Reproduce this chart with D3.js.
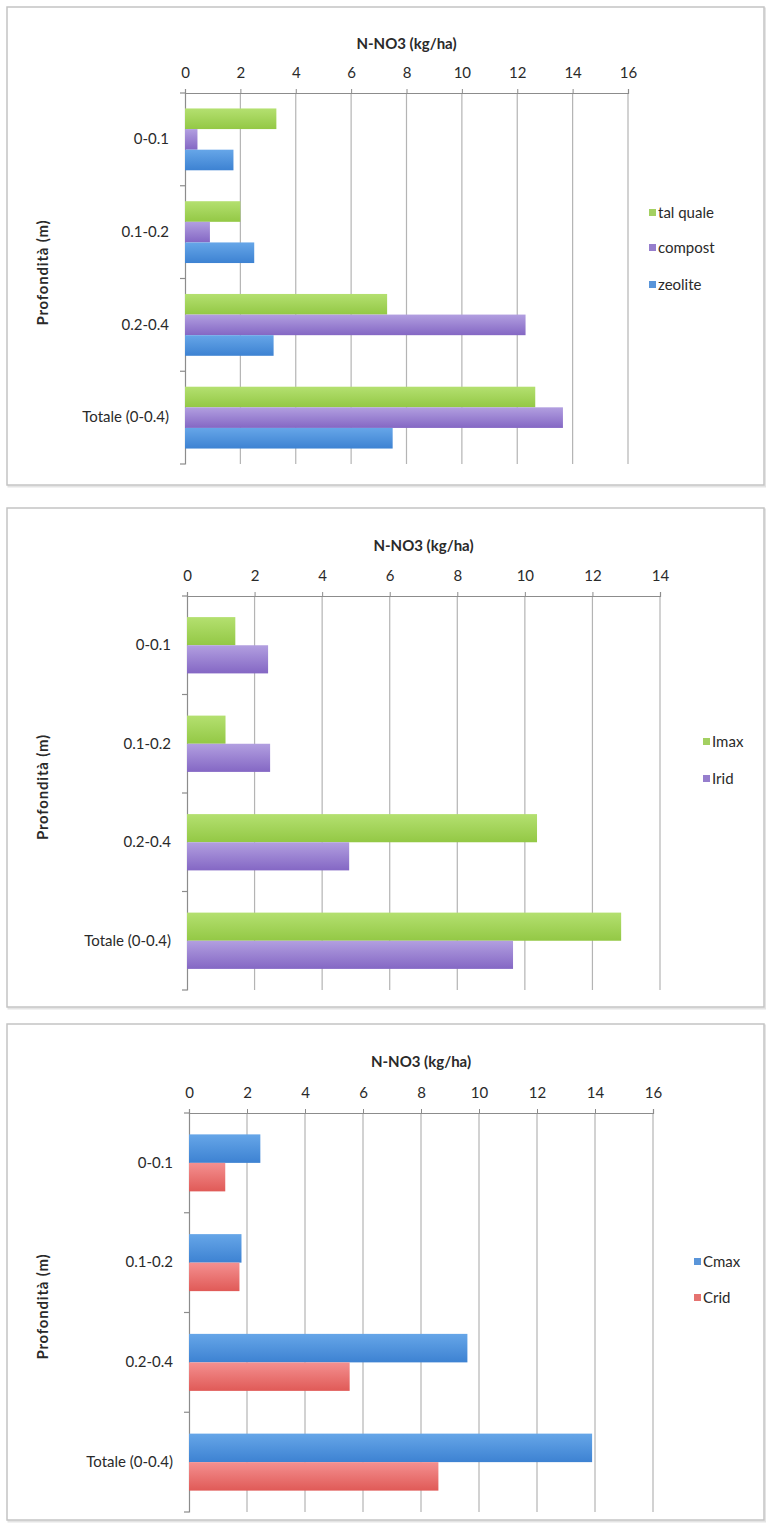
<!DOCTYPE html>
<html>
<head>
<meta charset="utf-8">
<script src="https://cdn.jsdelivr.net/npm/d3@7"></script>
<style>
  html, body { margin: 0; padding: 0; background: #ffffff; }
  svg { display: block; }
  text { font-family: Lato, "Open Sans", sans-serif; fill: #2a2a2a; }
</style>
</head>
<body>
<svg id="chart" width="766" height="1526"></svg>
<script>
// ---------- data ----------
const categories = ["0-0.1", "0.1-0.2", "0.2-0.4", "Totale (0-0.4)"];

const seriesTop = ["tal quale", "compost", "zeolite"];
const talQuale = [3.3, 2.0, 7.3, 12.65];
const compost  = [0.45, 0.9, 12.3, 13.65];
const zeolite  = [1.75, 2.5, 3.2, 7.5];
const ticksTop = [0, 2, 4, 6, 8, 10, 12, 14, 16];

const seriesMid = ["Imax", "Irid"];
const imax = [1.43, 1.14, 10.36, 12.85];
const irid = [2.4, 2.46, 4.8, 9.65];
const ticksMid = [0, 2, 4, 6, 8, 10, 12, 14];

const seriesBot = ["Cmax", "Crid"];
const cmax = [2.46, 1.81, 9.6, 13.9];
const crid = [1.25, 1.74, 5.54, 8.6];
const ticksBot = [0, 2, 4, 6, 8, 10, 12, 14, 16];

const xTitle = "N-NO3 (kg/ha)";
const yTitle = "Profondità (m)";

// ---------- drawing ----------
const svg = d3.select("#chart");
const defs = svg.append("defs");

const palette = {
  green:  ["#b4e070", "#93c845"],
  purple: ["#b29fe0", "#8467c4"],
  blue:   ["#66a6e8", "#3d82d2"],
  red:    ["#f49090", "#e05a57"]
};
Object.entries(palette).forEach(([k, c]) => {
  const g = defs.append("linearGradient").attr("id", "g-" + k)
    .attr("x1", 0).attr("y1", 0).attr("x2", 0).attr("y2", 1);
  g.append("stop").attr("offset", "0%").attr("stop-color", c[0]);
  g.append("stop").attr("offset", "100%").attr("stop-color", c[1]);
});

const FS = "15px";

function drawChart(cfg) {
  const g = svg.append("g");
  // frame
  g.append("rect")
    .attr("x", cfg.frame[0] + 1.5).attr("y", cfg.frame[1] + 1.5)
    .attr("width", cfg.frame[2] - cfg.frame[0]).attr("height", cfg.frame[3] - cfg.frame[1])
    .attr("fill", "none").attr("stroke", "#e4e4e4").attr("stroke-width", 2);
  g.append("rect")
    .attr("x", cfg.frame[0]).attr("y", cfg.frame[1])
    .attr("width", cfg.frame[2] - cfg.frame[0]).attr("height", cfg.frame[3] - cfg.frame[1])
    .attr("fill", "#fff").attr("stroke", "#c4c4c4").attr("stroke-width", 1.5);

  const x = d3.scaleLinear().domain([cfg.ticks[0], cfg.ticks[cfg.ticks.length - 1]])
    .range([cfg.x0, cfg.x1]);
  const y = d3.scaleBand().domain(categories).range([cfg.y0, cfg.y1]).padding(0);
  const ys = d3.scaleBand().domain(cfg.series.map((s, i) => i))
    .range([0, y.bandwidth()]).paddingInner(0).paddingOuter(0.75);

  // gridlines
  g.append("g").selectAll("line").data(cfg.ticks.slice(1)).join("line")
    .attr("x1", d => x(d)).attr("x2", d => x(d))
    .attr("y1", cfg.y0).attr("y2", cfg.y1)
    .attr("stroke", "#b4b4b4").attr("stroke-width", 1.2);

  // x axis (top)
  const xa = g.append("g").attr("transform", `translate(0,${cfg.y0})`)
    .call(d3.axisTop(x).tickValues(cfg.ticks).tickSize(4).tickPadding(11));
  xa.select(".domain").attr("stroke", "#8c8c8c").attr("stroke-width", 1.2);
  xa.selectAll(".tick line").attr("stroke", "#8c8c8c");
  xa.selectAll("text").style("font-size", FS).style("font-family", "Lato, sans-serif").attr("fill", "#2a2a2a");

  // y axis (left)
  const ya = g.append("g").attr("transform", `translate(${cfg.x0},0)`)
    .call(d3.axisLeft(y).tickSize(0).tickPadding(16));
  ya.select(".domain").attr("stroke", "#8c8c8c").attr("stroke-width", 1.2);
  ya.selectAll("text").style("font-size", FS).style("font-family", "Lato, sans-serif").attr("fill", "#2a2a2a");
  // category boundary tick marks
  g.append("g").selectAll("line").data(categories.map(c => y(c)).concat([cfg.y1])).join("line")
    .attr("x1", cfg.x0 - 5).attr("x2", cfg.x0)
    .attr("y1", d => d).attr("y2", d => d)
    .attr("stroke", "#8c8c8c").attr("stroke-width", 1.2);

  // bars
  cfg.values.forEach((vals, si) => {
    g.append("g").selectAll("rect").data(vals).join("rect")
      .attr("x", x(0))
      .attr("y", (d, i) => y(categories[i]) + ys(si))
      .attr("width", d => x(d) - x(0))
      .attr("height", ys.bandwidth())
      .attr("fill", `url(#g-${cfg.colors[si]})`);
  });

  // titles
  g.append("text").attr("x", (cfg.x0 + cfg.x1) / 2).attr("y", cfg.titleY)
    .attr("text-anchor", "middle").style("font-size", FS).style("font-weight", "bold")
    .text(xTitle);
  g.append("text")
    .attr("transform", `translate(${cfg.yTitleX},${(cfg.y0 + cfg.y1) / 2 - 6}) rotate(-90)`)
    .attr("text-anchor", "middle").style("font-size", FS).style("font-weight", "bold")
    .style("letter-spacing", "0.8px")
    .text(yTitle);

  // legend
  const lg = g.append("g");
  cfg.series.forEach((s, i) => {
    const ly = cfg.legendY[i];
    lg.append("rect").attr("x", cfg.legendX).attr("y", ly - 4).attr("width", 7).attr("height", 7)
      .attr("fill", palette[cfg.colors[i]][1]).attr("opacity", 0.85);
    lg.append("text").attr("x", cfg.legendX + 9).attr("y", ly).attr("dy", "0.35em")
      .style("font-size", FS).text(s);
  });
}

drawChart({
  frame: [7, 7, 764, 485], x0: 185, x1: 628, y0: 93, y1: 464,
  ticks: ticksTop, series: seriesTop, values: [talQuale, compost, zeolite],
  colors: ["green", "purple", "blue"], titleY: 49, yTitleX: 48,
  legendX: 649, legendY: [213, 248, 285]
});
drawChart({
  frame: [7, 508, 764, 1007], x0: 187, x1: 660, y0: 596, y1: 990,
  ticks: ticksMid, series: seriesMid, values: [imax, irid],
  colors: ["green", "purple"], titleY: 551, yTitleX: 48,
  legendX: 703, legendY: [742, 779]
});
drawChart({
  frame: [7, 1024, 764, 1520], x0: 189, x1: 653, y0: 1113, y1: 1512,
  ticks: ticksBot, series: seriesBot, values: [cmax, crid],
  colors: ["blue", "red"], titleY: 1067, yTitleX: 48,
  legendX: 694, legendY: [1262, 1298]
});
</script>
</body>
</html>
